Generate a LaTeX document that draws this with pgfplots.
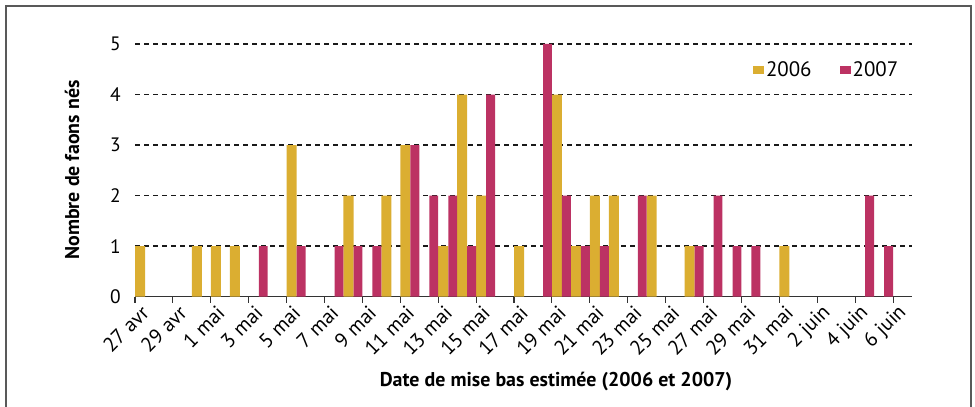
\documentclass[border=0pt]{standalone}
\usepackage{fontspec}
\setmainfont{PT Sans}
\usepackage{pgfplots}
\pgfplotsset{compat=1.18}

\definecolor{gold}{HTML}{DBAE31}
\definecolor{crim}{HTML}{BC3263}

\begin{document}
\begin{tikzpicture}
\useasboundingbox (-135bp,-110.3bp) rectangle (840bp,296.7bp);
\begin{axis}[
    at={(0,0)}, anchor=origin,
    scale only axis,
    width=777bp, height=252.7bp,
    xmin=0, xmax=41,
    ymin=0, ymax=5,
    axis x line=bottom, axis y line=left,
    x axis line style={-, black!80, line width=1.2bp},
    y axis line style={draw=none},
    xtick={0,2,...,40},
    xticklabels={27 avr,29 avr,1 mai,3 mai,5 mai,7 mai,9 mai,11 mai,13 mai,15 mai,17 mai,19 mai,21 mai,23 mai,25 mai,27 mai,29 mai,31 mai,2 juin,4 juin,6 juin},
    ytick={0,1,...,5},
    ymajorgrids,
    grid style={black!90, line width=1.4bp, dash pattern=on 5bp off 4bp},
    tick align=outside,
    xtick style={black!80, line width=1.1bp},
    major tick length=6bp,
    ytick style={draw=none},
    /pgf/number format/assume math mode=true,
    yticklabel style={font=\fontsize{19.5}{21}\selectfont, inner sep=0pt, xshift=-8bp},
    xticklabel style={font=\fontsize{20.5}{22}\selectfont, xshift=11bp, yshift=-6bp, rotate=45, anchor=east, inner sep=1bp},
    legend columns=2,
    legend style={at={(axis cs:32.6,4.486)}, anchor=west, draw=none, fill=none,
        font=\fontsize{21}{22}\selectfont, inner sep=0pt,
        /tikz/every even column/.append style={column sep=26bp}},
    legend image code/.code={\fill[#1, draw=none] (0bp,-4bp) rectangle (11bp,4bp);},
]
\addplot[ybar, fill=gold, draw=none, bar width=0.53, bar shift=0.265] coordinates {
    (0,1) (3,1) (4,1) (5,1) (8,3) (11,2) (13,2) (14,3) (16,1) (17,4)
    (18,2) (20,1) (22,4) (23,1) (24,2) (25,2) (27,2) (29,1) (34,1)
};
\addlegendentry{2006}
\addplot[ybar, fill=crim, draw=none, bar width=0.47, bar shift=0.765] coordinates {
    (6,1) (8,1) (10,1) (11,1) (12,1) (14,3) (15,2) (16,2) (17,1) (18,4)
    (21,5) (22,2) (23,1) (24,1) (26,2) (29,1) (30,2) (31,1) (32,1) (38,2) (39,1)
};
\addlegendentry{2007}
\end{axis}
\node[font=\bfseries\fontsize{20}{22}\selectfont] at (421bp,-85.3bp) {Date de mise bas estimée (2006 et 2007)};
\node[font=\bfseries\fontsize{20}{22}\selectfont, rotate=90] at (-63bp,126.7bp) {Nombre de faons nés};
\draw[black!65, line width=1.5bp] (-129bp,-120bp) -- (-129bp,290.7bp) -- (836bp,290.7bp) -- (836bp,-120bp);
\end{tikzpicture}
\end{document}
